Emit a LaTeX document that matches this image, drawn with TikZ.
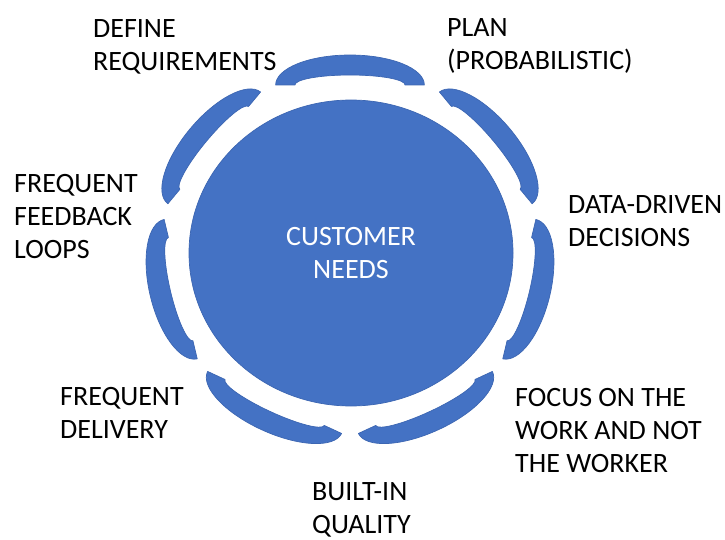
\documentclass[tikz,border=0pt]{standalone}
\usepackage{fontspec}
\setmainfont{Carlito}
\usetikzlibrary{shapes.geometric}
\definecolor{segblue}{HTML}{4472C4}
\definecolor{segedge}{HTML}{3C66B2}
\begin{document}
\begin{tikzpicture}[x=1pt,y=1pt,
  band/.style={fill=segblue, draw=segedge, line width=0.7pt, line join=round},
  hub/.style={ellipse, fill=segblue, draw=segedge, line width=0.7pt,
    minimum width=324pt, minimum height=306pt, inner sep=0pt,
    text=white, align=center, font=\fontsize{28}{33}\selectfont},
  lbl/.style={font=\fontsize{28}{33}\selectfont, align=left,
    anchor=base west, inner sep=0pt}]
\useasboundingbox (0,0) rectangle (725,539);

% seven arched bands around the hub, one per practice
\foreach \k in {0,...,6}{
  \pgfmathsetmacro\ang{-\k*360/7}
  \begin{scope}[shift={(350,287)}, xscale=1.04, rotate=\ang]
    \draw[band] (-71.5,167) arc[start angle=180, end angle=0, x radius=71.5, y radius=30]
      -- (53,167) arc[start angle=0, end angle=180, x radius=53, y radius=10] -- cycle;
  \end{scope}
}

% central hub
\node[hub] (needs) at (351,286) {CUSTOMER\\NEEDS};

% practice labels (anchored at the baseline of their last line)
\node[lbl] (define)   at (93,468)  {DEFINE\\REQUIREMENTS};
\node[lbl] (plan)     at (447,469) {PLAN\\(PROBABILISTIC)};
\node[lbl] (data)     at (568,293) {DATA-DRIVEN\\DECISIONS};
\node[lbl] (focus)    at (515,67)  {FOCUS ON THE\\WORK AND NOT\\THE WORKER};
\node[lbl] (quality)  at (312,6)   {BUILT-IN\\QUALITY};
\node[lbl] (delivery) at (60,101)  {FREQUENT\\DELIVERY};
\node[lbl] (feedback) at (14,281)  {FREQUENT\\FEEDBACK\\LOOPS};
\end{tikzpicture}
\end{document}
